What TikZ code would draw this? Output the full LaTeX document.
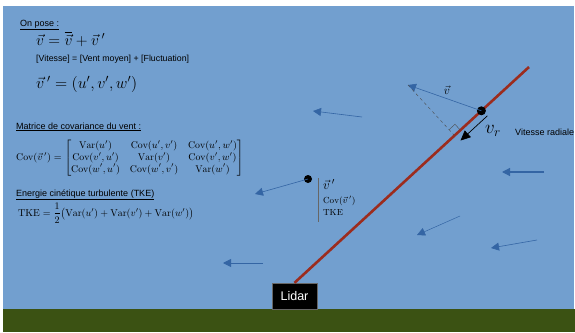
\RequirePackage{fix-cm}
\documentclass[tikz,border=0pt]{standalone}
\usepackage{amsmath}
\usepackage{fontspec}
\setsansfont{Liberation Sans}
\usetikzlibrary{arrows.meta, positioning, calc}
\definecolor{sky}{HTML}{729FCF}
\definecolor{grass}{HTML}{3B5213}
\definecolor{beamred}{HTML}{9C2C1E}
\definecolor{wind}{HTML}{3465A4}
\newcommand{\fs}[1]{\fontsize{#1}{1.2\dimexpr #1pt\relax}\selectfont}

\begin{document}
\begin{tikzpicture}[x=1pt, y=-1pt,
    lbl/.style={inner sep=0pt, anchor=base west, font=\sffamily\fs{9}},
    eq/.style={inner sep=0pt, anchor=base west},
    dot/.style={circle, fill=black, inner sep=0pt, minimum size=9pt},
    gust/.style={draw=wind, line width=0.6pt, -{Triangle[length=8pt, width=8pt]}, color=wind},
    lidarbox/.style={rectangle, fill=black, draw=black!60, text=white, font=\sffamily\fs{12.5}, minimum width=45pt, minimum height=26pt, inner sep=0pt},
    beam/.style={draw=beamred, line width=2.6pt},
    arrow/.style={line width=0.7pt, -{Triangle[length=10pt, width=9pt]}}]
    \useasboundingbox (0,0) rectangle (575,332);
    % sky and ground
    \fill[sky] (3,6) rectangle (574,309);
    \fill[grass] (3,309) rectangle (575,332);

    % text on the left
    \node[lbl] (pose) at (20,26) {\underline{On pose :}};
    \node[eq, font=\fs{15.5}] (e1) at (36,45) {$\vec{v} = \overline{\vec{v}} + \vec{v}\,'$};
    \node[lbl, font=\sffamily\fs{8.8}] (legend) at (36,61) {[Vitesse] = [Vent moyen] + [Fluctuation]};
    \node[eq, font=\fs{16}] (e2) at (36,88) {$\vec{v}\,' = (u', v', w')$};
    \node[lbl] (mat) at (16,129) {\underline{Matrice de covariance du vent :}};
    \node[inner sep=0pt, anchor=west, font=\fs{9.8}] (cov) at (16,158)
      {$\mathrm{Cov}(\vec{v}\,') = \begin{bmatrix}
        \mathrm{Var}(u') & \mathrm{Cov}(u',v') & \mathrm{Cov}(u',w')\\
        \mathrm{Cov}(v',u') & \mathrm{Var}(v') & \mathrm{Cov}(v',w')\\
        \mathrm{Cov}(w',u') & \mathrm{Cov}(w',v') & \mathrm{Var}(w')
      \end{bmatrix}$};
    \node[lbl] (ener) at (16,196) {\underline{Energie cinétique turbulente (TKE)}};
    \node[inner sep=0pt, anchor=west, font=\fs{10}] (tkeq) at (18,213)
      {$\mathrm{TKE} = \dfrac{1}{2}\bigl(\mathrm{Var}(u') + \mathrm{Var}(v') + \mathrm{Var}(w')\bigr)$};

    % lidar and beam
    \node[lidarbox] (lidar) at (294.5,296) {Lidar};
    \coordinate (b1) at (529,67);
    \draw[beam] (lidar.north) -- (b1);

    % radial velocity
    \node[dot] (p) at ($(lidar.north)!0.797!(b1)$) {};
    \coordinate (tip) at (408,85);
    \draw[gust] (p.center) -- (tip);
    \node[font=\fs{12}] (vlab) at (447,90) {$\vec{v}$};
    \coordinate (foot) at ($(lidar.north)!(tip)!(b1)$);
    \draw[dashed, black!70, thin] (tip) -- (foot);
    \coordinate (q1) at ($(foot)!8pt!(b1)$);
    \coordinate (q2) at ($(foot)!8pt!(tip)$);
    \draw[black!70, thin] (q1) -- ($(q1)+(q2)-(foot)$) -- (q2);
    \draw[arrow] ([shift={(6,5)}]p.center) -- ([shift={(6,5)}]foot);
    \node[font=\fs{19}] (vr) at (493,131) {$v_r$};
    \node[lbl, anchor=west] (rad) at (515,132) {Vitesse radiale};

    % fluctuation point
    \node[dot, minimum size=8pt] (q) at (308,179) {};
    \coordinate (qtip) at (255,194);
    \draw[gust] (q.center) -- (qtip);
    \node[eq, font=\fs{13}] (vp) at (323,189) {$\vec{v}\,'$};
    \node[eq, font=\fs{8.8}] (cvp) at (323,203) {$\mathrm{Cov}(\vec{v}\,')$};
    \node[eq, font=\fs{8.8}] (tke) at (323,215) {$\mathrm{TKE}$};
    \draw[black!60, thin] (318,178) coordinate (s0) -- (318,222) coordinate (s1);

    % wind field
    \foreach \a/\b/\c/\d/\w [count=\i] in {362/117/313/111/0.6, 263/263/223/263/0.8,
        460/216/417/235/0.5, 544/172/502/172/1.2, 537/240/491/248/0.6} {
      \coordinate (t\i) at (\a,\b);
      \coordinate (h\i) at (\c,\d);
      \draw[gust, line width=\w pt] (t\i) -- (h\i);
    }
\end{tikzpicture}
\end{document}
